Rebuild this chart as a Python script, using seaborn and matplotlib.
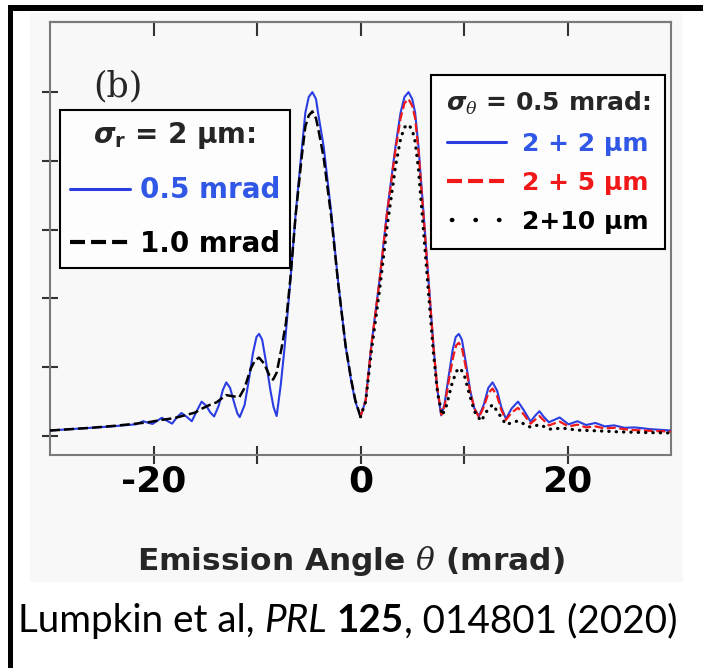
import matplotlib
matplotlib.use("Agg")
import matplotlib.pyplot as plt
import seaborn as sns
from matplotlib.lines import Line2D
from matplotlib.patches import Rectangle

# ---------------- data: emission angle (mrad) and intensity (a.u.) ----------------
theta_blue = [-30.0, -28.0, -26.0, -24.0, -22.5, -21.7, -21.0, -20.1, -19.2, -18.2,
              -17.75, -17.3, -16.8, -16.3, -15.8, -15.35, -14.9, -14.5, -14.14, -13.7,
              -13.3, -12.97, -12.6, -12.2, -11.9, -11.67, -11.2, -10.8, -10.4, -10.05,
              -9.8, -9.5, -9.1, -8.7, -8.4, -8.1, -7.7, -7.32, -6.77, -6.26,
              -5.65, -5.33, -5.0, -4.65, -4.3, -4.1, -3.56, -2.82, -2.18, -1.44,
              -0.9, -0.5, 0.0, 0.5, 1.04, 1.84, 2.55, 3.38, 3.87, 4.25,
              4.64, 5.0, 5.28, 5.6, 6.09, 6.57, 7.05, 7.4, 7.79, 8.1,
              8.5, 8.9, 9.2, 9.5, 9.8, 10.2, 10.6, 11.0, 11.45, 11.9,
              12.35, 12.76, 13.2, 13.6, 14.05, 14.6, 15.22, 15.8, 16.43, 16.9,
              17.29, 17.7, 18.2, 19.24, 20.1, 20.96, 21.8, 22.7, 23.6, 24.5,
              25.5, 26.5, 28.0, 30.0]
I_blue = [0.08, 0.10, 0.12, 0.14, 0.16, 0.17, 0.215, 0.175, 0.265, 0.18,
          0.27, 0.335, 0.28, 0.215, 0.37, 0.50, 0.44, 0.34, 0.285, 0.44,
          0.67, 0.78, 0.70, 0.48, 0.33, 0.275, 0.45, 0.80, 1.20, 1.44,
          1.485, 1.40, 1.05, 0.66, 0.42, 0.29, 0.75, 1.31, 2.27, 3.24,
          4.21, 4.70, 4.93, 5.00, 4.90, 4.70, 4.21, 3.24, 2.27, 1.31,
          0.80, 0.50, 0.28, 0.52, 1.31, 2.27, 3.24, 4.21, 4.70, 4.93,
          5.00, 4.90, 4.70, 4.21, 3.24, 2.27, 1.31, 0.70, 0.30, 0.45,
          0.85, 1.25, 1.44, 1.485, 1.40, 1.05, 0.66, 0.40, 0.29, 0.45,
          0.70, 0.78, 0.66, 0.42, 0.25, 0.40, 0.50, 0.37, 0.21, 0.30,
          0.36, 0.28, 0.20, 0.27, 0.17, 0.215, 0.16, 0.19, 0.14, 0.155,
          0.12, 0.125, 0.10, 0.08]

# sigma_r = 2 um, sigma_theta = 1.0 mrad (negative angles)
theta_black = [-30.0, -28.0, -26.0, -24.0, -22.0, -20.5, -19.2, -18.0, -17.0, -16.0,
               -15.3, -14.6, -13.9, -13.0, -12.4, -11.7, -11.2, -10.6, -10.2, -9.8,
               -9.3, -8.8, -8.45, -8.1, -7.6, -7.2, -6.77, -6.26, -5.65, -5.33,
               -5.0, -4.65, -4.3, -4.1, -3.56, -2.82, -2.18, -1.44, -0.9, -0.5, 0.0]
I_black = [0.08, 0.10, 0.12, 0.145, 0.175, 0.20, 0.235, 0.26, 0.30, 0.34,
           0.40, 0.45, 0.49, 0.595, 0.58, 0.565, 0.70, 0.98, 1.10, 1.14,
           1.05, 0.88, 0.82, 0.92, 1.30, 1.65, 2.30, 3.22, 4.10, 4.50,
           4.66, 4.72, 4.62, 4.48, 4.05, 3.18, 2.25, 1.31, 0.82, 0.52, 0.28]

# sigma_theta = 0.5 mrad, 2 + 5 um (positive angles)
theta_red = [0.0, 0.5, 1.04, 1.84, 2.55, 3.38, 3.87, 4.25, 4.64, 5.0,
             5.28, 5.6, 6.09, 6.57, 7.05, 7.4, 7.82, 8.15, 8.55, 8.95,
             9.25, 9.5, 9.8, 10.2, 10.6, 11.0, 11.45, 11.9, 12.35, 12.76,
             13.2, 13.6, 14.05, 14.6, 15.22, 15.8, 16.43, 17.29, 18.2, 19.24,
             20.1, 20.96, 21.8, 22.7, 23.6, 24.5, 26.0, 28.0, 30.0]
I_red = [0.28, 0.52, 1.30, 2.26, 3.22, 4.16, 4.62, 4.84, 4.90, 4.80,
         4.62, 4.15, 3.20, 2.25, 1.30, 0.72, 0.31, 0.45, 0.82, 1.15,
         1.32, 1.355, 1.28, 0.98, 0.64, 0.40, 0.27, 0.42, 0.62, 0.69,
         0.58, 0.38, 0.235, 0.34, 0.41, 0.31, 0.18, 0.29, 0.155, 0.21,
         0.14, 0.165, 0.125, 0.14, 0.11, 0.12, 0.09, 0.075, 0.065]

# sigma_theta = 0.5 mrad, 2 + 10 um (positive angles)
theta_dot = [0.0, 0.5, 1.04, 1.84, 2.55, 3.38, 3.87, 4.25, 4.64, 5.0,
             5.28, 5.6, 6.09, 6.57, 7.05, 7.45, 7.9, 8.3, 8.8, 9.25,
             9.6, 10.0, 10.5, 11.0, 11.65, 12.2, 12.76, 13.3, 14.05, 15.2,
             16.4, 17.3, 18.3, 19.5, 21.0, 23.0, 25.0, 27.5, 30.0]
I_dot = [0.28, 0.50, 1.22, 2.12, 3.02, 3.92, 4.32, 4.49, 4.53, 4.45,
         4.28, 3.88, 2.98, 2.08, 1.20, 0.62, 0.30, 0.44, 0.74, 0.94,
         0.99, 0.90, 0.62, 0.36, 0.215, 0.36, 0.458, 0.34, 0.167, 0.22,
         0.13, 0.165, 0.10, 0.115, 0.085, 0.075, 0.06, 0.05, 0.045]

x_ticks = [-20, -10, 0, 10, 20]
x_tick_labels = ["-20", "", "0", "", "20"]
y_ticks = [0, 1, 2, 3, 4, 5]

left_title = r"$\sigma_\mathrm{r}$ = 2 μm:"
left_labels = ["0.5 mrad", "1.0 mrad"]
right_title = r"$\sigma_\mathsf{\theta}$ = 0.5 mrad:"
right_labels = ["2 + 2 μm", "2 + 5 μm", "2+10 μm"]
x_label = r"Emission Angle $\mathsf{\theta}$ (mrad)"
panel_tag = "(b)"

# ---------------- style ----------------
sns.set_style("white")
plt.rcParams.update({
    "font.family": ["DejaVu Sans"],
    "mathtext.fontset": "custom",
    "mathtext.rm": "DejaVu Sans:bold",
    "mathtext.it": "DejaVu Sans:bold:italic",
    "mathtext.bf": "DejaVu Sans:bold",
    "mathtext.sf": "DejaVu Serif:italic",
    "axes.unicode_minus": False,
})

BLUE = "#2a3de0"
BLUE_TXT = "#3157e6"
RED = "#f01818"

W, H = 703, 668
fig = plt.figure(figsize=(W / 100, H / 100), dpi=100)
fig.patch.set_facecolor("white")


def fx(px):
    return px / W


def fy(py):
    return 1 - py / H


# light panel background and the black frame lines
fig.add_artist(Rectangle((fx(30), fy(582)), (683 - 30) / W, (582 - 13) / H,
                         transform=fig.transFigure, facecolor="#f8f8f8",
                         edgecolor="none", zorder=-2))
fig.add_artist(Rectangle((fx(8), 0), 4.5 / W, fy(5), transform=fig.transFigure,
                         facecolor="black", edgecolor="none", zorder=5))
fig.add_artist(Rectangle((fx(8), fy(10.5)), 1 - fx(8), 5.5 / H,
                         transform=fig.transFigure, facecolor="black",
                         edgecolor="none", zorder=5))

ax = fig.add_axes([fx(50), fy(455), 621 / W, 433 / H])
ax.set_facecolor("none")

sns.lineplot(x=theta_blue, y=I_blue, ax=ax, color=BLUE, linewidth=1.5, zorder=3)
sns.lineplot(x=theta_black, y=I_black, ax=ax, color="black", linewidth=1.8,
             linestyle=(0, (4, 1.6)), zorder=4)
sns.lineplot(x=theta_red, y=I_red, ax=ax, color=RED, linewidth=1.6,
             linestyle=(0, (4, 1.6)), zorder=4)
sns.lineplot(x=theta_dot, y=I_dot, ax=ax, color="black", linewidth=2.3,
             linestyle=(0, (0.1, 2.2)), dash_capstyle="round", zorder=5)

ax.set_xlim(-30, 30)
ax.set_ylim(-0.276, 6.02)
ax.set_xticks(x_ticks)
ax.set_xticklabels(x_tick_labels, fontsize=26, fontweight="bold")
ax.set_yticks(y_ticks)
ax.set_yticklabels([])

for sp in ax.spines.values():
    sp.set_color("#7a7a7a")
    sp.set_linewidth(1.5)
    sp.set_visible(True)

ax.tick_params(axis="x", bottom=True, top=False, direction="inout", length=13,
               width=1.5, color="#333333", pad=0, labelcolor="black")
ax.tick_params(axis="y", left=True, right=False, direction="inout", length=12,
               width=1.5, color="#333333")

top = ax.secondary_xaxis("top")
top.set_xticks(x_ticks)
top.set_xticklabels([])
top.tick_params(direction="in", length=10, width=1.5, color="#333333")
top.spines["top"].set_color("#7a7a7a")
top.spines["top"].set_linewidth(1.5)

ax.set_xlabel(x_label, fontsize=22.5, fontweight="bold")
ax.xaxis.set_label_coords(0.485, -0.205)

# ---------------- legends ----------------
h_blue = Line2D([], [], color=BLUE, linewidth=2.2)
h_black = Line2D([], [], color="black", linewidth=3, linestyle=(0, (3.6, 1.45)))
h_red = Line2D([], [], color=RED, linewidth=3, linestyle=(0, (3.6, 1.45)))
h_dot = Line2D([], [], color="black", linewidth=3.2, linestyle=(4.2, (0.1, 5.2)),
               dash_capstyle="round")

common = dict(bbox_transform=ax.transAxes, borderaxespad=0, frameon=True,
              fancybox=False, edgecolor="black", facecolor="#fdfdfd", framealpha=1)

leg1 = ax.legend(handles=[h_blue, h_black], labels=left_labels, title=left_title,
                 loc="upper left",
                 bbox_to_anchor=((60 - 50) / 621, (455 - 110) / 433),
                 prop=dict(weight="bold", size=20),
                 title_fontproperties=dict(weight="bold", size=20),
                 labelcolor=[BLUE_TXT, "black"], handlelength=2.16,
                 handletextpad=0.36, borderpad=0.35, labelspacing=0.92, **common)
leg1.get_frame().set_linewidth(1.5)
ax.add_artist(leg1)

leg2 = ax.legend(handles=[h_blue, h_red, h_dot], labels=right_labels, title=right_title,
                 loc="upper right",
                 bbox_to_anchor=((665 - 50) / 621, (455 - 75) / 433),
                 prop=dict(weight="bold", size=18),
                 title_fontproperties=dict(weight="bold", size=18),
                 labelcolor=[BLUE_TXT, RED, "black"], handlelength=2.35,
                 handletextpad=0.62, borderpad=0.6, labelspacing=0.6, **common)
leg2.get_frame().set_linewidth(1.5)

# panel tag
fig.text(fx(93), fy(86), panel_tag, fontsize=25, family="DejaVu Serif",
         ha="left", va="center")

# ---------------- citation line with mixed styles ----------------
renderer = fig.canvas.get_renderer()
cite_size = 27.8
probe_a = fig.text(0, 0, "aa", fontsize=cite_size, family="Lato")
probe_b = fig.text(0, 0, "a a", fontsize=cite_size, family="Lato")
space_w = (probe_b.get_window_extent(renderer).width
           - probe_a.get_window_extent(renderer).width)
probe_a.remove()
probe_b.remove()

runs = [("Lumpkin et al,", {}, True), ("PRL", {"style": "italic"}, True),
        ("125", {"weight": "bold"}, False), (", 014801 (2020)", {}, False)]
x_px = 18.0
for text, props, add_space in runs:
    t = fig.text(fx(x_px), fy(632), text, fontsize=cite_size, family="Lato",
                 ha="left", va="baseline", color="black", **props)
    bb = t.get_window_extent(renderer)
    x_px = bb.x1 + (space_w if add_space else 0)

fig.savefig("out.png", dpi=100)
